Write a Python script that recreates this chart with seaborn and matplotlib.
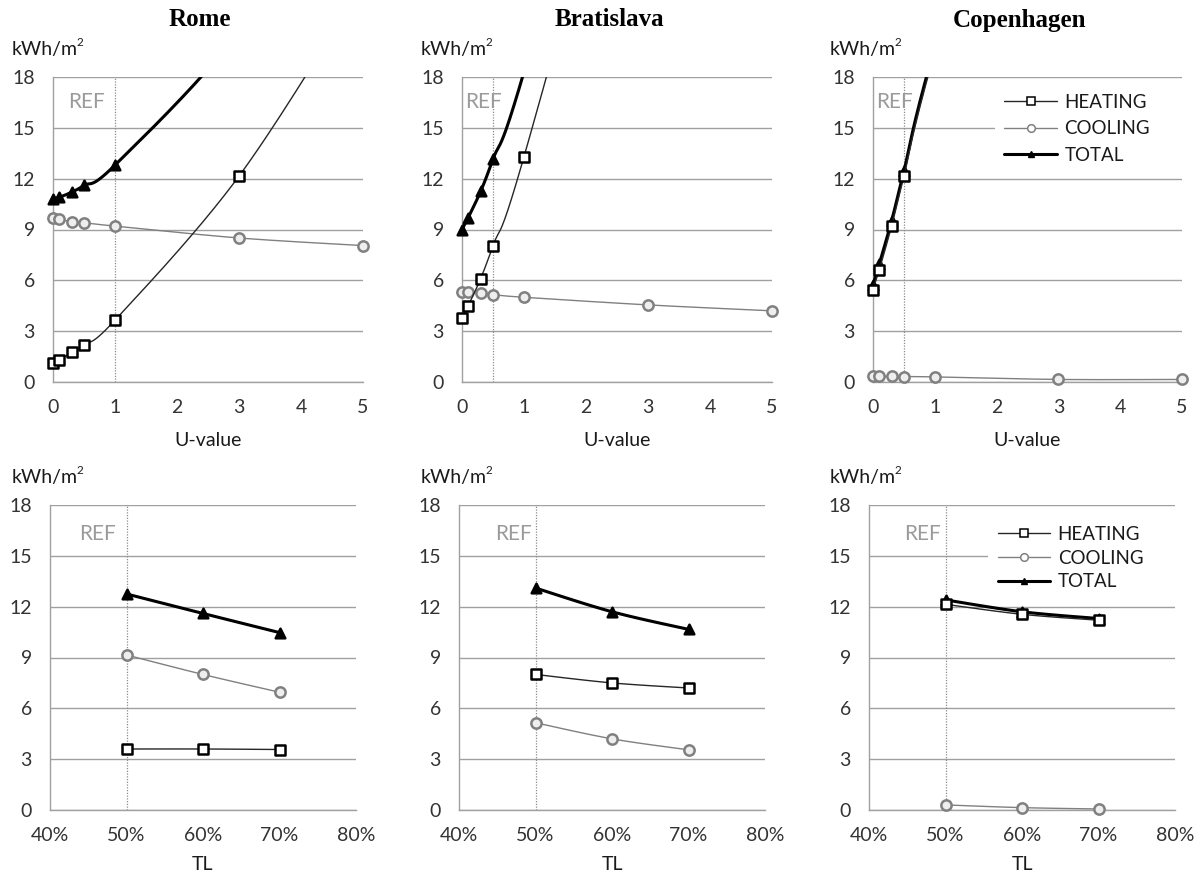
import numpy as np
import matplotlib
matplotlib.use("Agg")
import matplotlib.pyplot as plt
from matplotlib.lines import Line2D
import seaborn as sns

# ---------------- data ----------------
cities = ["Rome", "Bratislava", "Copenhagen"]
u_values = [0, 0.1, 0.3, 0.5, 1, 3, 5]
tl_values = [0.5, 0.6, 0.7]

rome_u_heating = [1.15, 1.3, 1.75, 2.2, 3.65, 12.15, 23.5]
rome_u_cooling = [9.65, 9.6, 9.45, 9.4, 9.2, 8.5, 8.05]
rome_u_total = [10.8, 10.9, 11.2, 11.6, 12.8, 20.65, 31.55]

brat_u_heating = [3.75, 4.5, 6.1, 8.05, 13.3, 40.0, 68.0]
brat_u_cooling = [5.3, 5.3, 5.25, 5.15, 5.0, 4.55, 4.2]
brat_u_total = [9.0, 9.7, 11.25, 13.15, 18.3, 44.5, 72.2]

cope_u_heating = [5.45, 6.6, 9.2, 12.15, 19.5, 45.0, 75.0]
cope_u_cooling = [0.33, 0.33, 0.33, 0.32, 0.3, 0.15, 0.15]
cope_u_total = [5.75, 6.95, 9.5, 12.45, 19.8, 45.15, 75.15]

rome_tl_heating = [3.6, 3.6, 3.57]
rome_tl_cooling = [9.15, 8.0, 6.95]
rome_tl_total = [12.75, 11.6, 10.47]

brat_tl_heating = [8.0, 7.5, 7.2]
brat_tl_cooling = [5.15, 4.2, 3.55]
brat_tl_total = [13.1, 11.7, 10.66]

cope_tl_heating = [12.14, 11.55, 11.2]
cope_tl_cooling = [0.3, 0.14, 0.06]
cope_tl_total = [12.4, 11.7, 11.3]

ref_u = [1, 0.5, 0.5]
ref_tl = [0.5, 0.5, 0.5]
ref_u_text_x = [0.54, 0.35, 0.34]
ref_tl_text_x = [0.462, 0.471, 0.470]

y_ticks = [0, 3, 6, 9, 12, 15, 18]
u_ticks = [0, 1, 2, 3, 4, 5]
tl_ticks = [0.4, 0.5, 0.6, 0.7, 0.8]
tl_tick_labels = ["40%", "50%", "60%", "70%", "80%"]
series_labels = ["HEATING", "COOLING", "TOTAL"]

top_data = [
    (rome_u_heating, rome_u_cooling, rome_u_total),
    (brat_u_heating, brat_u_cooling, brat_u_total),
    (cope_u_heating, cope_u_cooling, cope_u_total),
]
bot_data = [
    (rome_tl_heating, rome_tl_cooling, rome_tl_total),
    (brat_tl_heating, brat_tl_cooling, brat_tl_total),
    (cope_tl_heating, cope_tl_cooling, cope_tl_total),
]

# ---------------- style ----------------
sns.set_theme(style="white")
plt.rcParams["font.family"] = ["Lato", "DejaVu Sans"]

TXT = "#333333"
GRID = "#a0a0a0"
HEAT_C = "#262626"
COOL_C = "#808080"
FS = 14

W, H = 1201, 877
fig = plt.figure(figsize=(W / 100, H / 100), dpi=100)
renderer = fig.canvas.get_renderer()


def px_rect(l, t, r, b):
    return [l / W, 1 - b / H, (r - l) / W, (b - t) / H]


def smooth(x, y, n=60):
    pts = np.column_stack([np.asarray(x, float), np.asarray(y, float)])
    out = []
    for i in range(len(pts) - 1):
        p0 = pts[i - 1] if i > 0 else pts[i]
        p1 = pts[i]
        p2 = pts[i + 1]
        p3 = pts[i + 2] if i + 2 < len(pts) else pts[i + 1]
        c1 = p1 + (p2 - p0) / 6
        c2 = p2 - (p3 - p1) / 6
        t = np.linspace(0, 1, n)[:, None]
        seg = (1 - t) ** 3 * p1 + 3 * (1 - t) ** 2 * t * c1 + 3 * (1 - t) * t ** 2 * c2 + t ** 3 * p2
        out.append(seg if i == 0 else seg[1:])
    return np.vstack(out)


def draw_panel(ax, xs, heat, cool, tot, xlim, xticks, xticklabels, ref, ref_tx, ref_ty):
    ax.set_xlim(*xlim)
    ax.set_ylim(0, 18)
    ax.set_yticks(y_ticks)
    ax.set_xticks(xticks)
    ax.set_xticklabels(xticklabels)
    ax.yaxis.grid(True, color=GRID, lw=1.0, zorder=0.5)
    ax.xaxis.grid(False)
    ax.set_axisbelow(True)
    for s in ["top", "right"]:
        ax.spines[s].set_visible(False)
    for s in ["left", "bottom"]:
        ax.spines[s].set_color(GRID)
        ax.spines[s].set_linewidth(1.0)
    ax.tick_params(axis="both", which="major", direction="out", length=5,
                   width=1.0, color=GRID, labelsize=FS, labelcolor=TXT)
    ax.tick_params(axis="y", pad=8)
    ax.tick_params(axis="x", pad=7)

    # REF line
    ax.axvline(ref, color="#8c8c8c", lw=0.9, ls=(0, (1, 1.2)), zorder=1.5)
    ax.text(ref_tx, ref_ty, "REF", color="#9a9a9a", fontsize=15, ha="center", va="center")

    xs = np.asarray(xs, float)
    series = [
        (cool, COOL_C, 1.0, "o", "#eeeeee", COOL_C, 55, 3),
        (tot, "black", 2.2, "^", "black", "black", 48, 4),
        (heat, HEAT_C, 1.0, "s", "white", "black", 44, 5),
    ]
    for vals, lc, lw, mk, fc, ec, ms, z in series:
        vals = np.asarray(vals, float)
        sm = smooth(xs, vals)
        sns.lineplot(x=sm[:, 0], y=sm[:, 1], sort=False, estimator=None,
                     ax=ax, color=lc, lw=lw, zorder=z)
        m = vals <= 18
        sns.scatterplot(x=xs[m], y=vals[m], ax=ax, marker=mk, s=ms,
                        facecolor=fc, edgecolor=ec, linewidth=1.8,
                        zorder=z + 0.5, clip_on=False, legend=False)


def add_legend(ax, anchor, spacing):
    handles = [
        Line2D([], [], color=HEAT_C, lw=1.0, marker="s", ms=6, mfc="white", mec="black", mew=1.1),
        Line2D([], [], color=COOL_C, lw=1.0, marker="o", ms=5.5, mfc="white", mec=COOL_C, mew=1.1),
        Line2D([], [], color="black", lw=2.2, marker="^", ms=5, mfc="black", mec="black"),
    ]
    leg = ax.legend(handles, series_labels, loc="center left", bbox_to_anchor=anchor,
                    mode="expand", borderaxespad=0, frameon=True, fancybox=False,
                    framealpha=1, facecolor="white", edgecolor="white", fontsize=13.5,
                    handlelength=2.8, handletextpad=0.4, labelspacing=spacing,
                    borderpad=0.5)
    leg.get_frame().set_linewidth(0)
    for t in leg.get_texts():
        t.set_color("#1a1a1a")
    leg.set_zorder(2)


def unit_label(x_px, y_px):
    t = fig.text(x_px / W, 1 - y_px / H, "kWh/m", fontsize=FS, color="#1a1a1a",
                 ha="left", va="center")
    bb = t.get_window_extent(renderer)
    fig.text((bb.x1 - 1.5) / W, 1 - (y_px - 7) / H, "2", fontsize=8.5, color="#1a1a1a",
             ha="left", va="center")


top_rects = [(53, 77, 363, 382), (462, 77, 772, 382), (873, 77, 1182, 382)]
bot_rects = [(50, 505, 356, 810), (459, 505, 765, 810), (869, 505, 1175, 810)]
kwh_x = [12, 421, 830]
title_x = [200, 609, 1019]

for i, city in enumerate(cities):
    ax = fig.add_axes(px_rect(*top_rects[i]))
    h, c, t = top_data[i]
    draw_panel(ax, u_values, h, c, t, (0, 5), u_ticks, [str(v) for v in u_ticks],
               ref_u[i], ref_u_text_x[i], 16.5)
    l, tp, r, b = top_rects[i]
    fig.text(title_x[i] / W, 1 - 20 / H, city, family="Liberation Serif",
             fontweight="bold", fontsize=18, ha="center", va="center", color="black")
    unit_label(kwh_x[i], 49)
    fig.text((l + r) / 2 / W, 1 - 440 / H, "U-value", fontsize=FS, color="#1a1a1a",
             ha="center", va="center")
    if i == 2:
        add_legend(ax, (0.395, 0.83, 0.605, 0.0), 0.5)

    ax2 = fig.add_axes(px_rect(*bot_rects[i]))
    h, c, t = bot_data[i]
    draw_panel(ax2, tl_values, h, c, t, (0.4, 0.8), tl_ticks, tl_tick_labels,
               ref_tl[i], ref_tl_text_x[i], 16.3)
    l, tp, r, b = bot_rects[i]
    unit_label(kwh_x[i], 478)
    fig.text((l + r) / 2 / W, 1 - 865 / H, "TL", fontsize=FS, color="#1a1a1a",
             ha="center", va="center")
    if i == 2:
        add_legend(ax2, (0.39, 0.826, 0.61, 0.0), 0.35)

fig.savefig("out.png", dpi=100, facecolor="white")
